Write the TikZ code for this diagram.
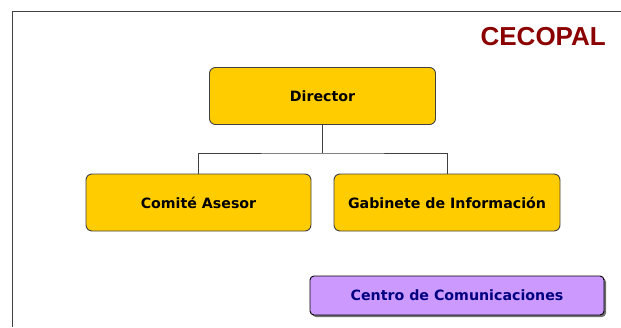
\documentclass[tikz,border=0pt]{standalone}
\usepackage{fontspec}
\setmainfont{DejaVu Sans}
\newfontfamily\titlefont{Liberation Sans}
\usetikzlibrary{shadows}
\definecolor{boxyellow}{HTML}{FFCC00}
\definecolor{boxpurple}{HTML}{CC99FF}
\definecolor{titlered}{HTML}{8B0000}
\definecolor{navytext}{HTML}{000080}
\definecolor{edgegray}{HTML}{404040}
\begin{document}
\begin{tikzpicture}[x=1pt,y=-1pt,
  orgbox/.style={draw=edgegray, line width=0.9pt, rounded corners=6pt, fill=boxyellow,
    font=\fontsize{14.2}{16}\selectfont\bfseries, text=black},
  commbox/.style={draw=black, line width=0.9pt, rounded corners=4pt, fill=boxpurple,
    font=\fontsize{14.2}{16}\selectfont\bfseries, text=navytext,
    drop shadow={shadow xshift=2pt, shadow yshift=-2pt, fill=black!70, opacity=0.8}},
  link/.style={draw=edgegray, line width=0.7pt}]
\useasboundingbox (0,0) rectangle (621,327);
\draw[edgegray, line width=1pt] (12,327) -- (12,11) -- (621,11);
\node[anchor=east, inner sep=0pt, font=\titlefont\fontsize{26}{30}\selectfont\bfseries, text=titlered] (title) at (606,37) {CECOPAL};
\node[orgbox, minimum width=226pt, minimum height=57pt] (dir) at (322.5,96) {Director};
\node[orgbox, minimum width=225pt, minimum height=57pt] (com) at (198.5,202.5) {Comité Asesor};
\node[orgbox, minimum width=226pt, minimum height=57pt] (gab) at (447,202.5) {Gabinete de Información};
\node[commbox, minimum width=294pt, minimum height=39pt] (cen) at (457,295.5) {Centro de Comunicaciones};
\coordinate (mid) at (322.5,153);
\draw[link] (dir.south) -- (mid);
\draw[link] (com.north) |- (mid) -| (gab.north);
\end{tikzpicture}
\end{document}
